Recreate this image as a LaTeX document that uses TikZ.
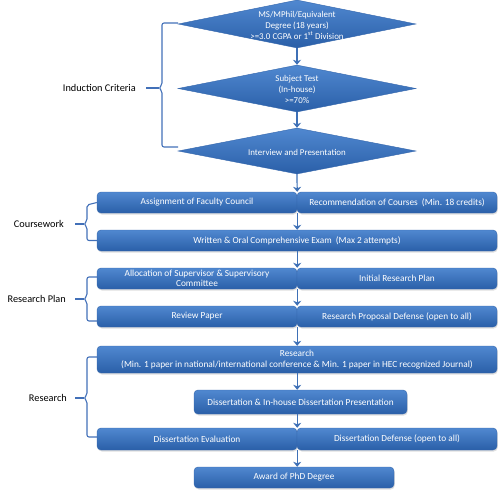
\documentclass[tikz,border=0pt]{standalone}
\usepackage{fontspec}
\setmainfont{Carlito}
\usetikzlibrary{shapes.geometric,arrows.meta,shadows}
\definecolor{boxtop}{RGB}{80,136,208}
\definecolor{boxbot}{RGB}{42,95,168}
\definecolor{boxline}{RGB}{52,102,172}
\definecolor{arrowc}{RGB}{62,112,182}
\definecolor{bracec}{RGB}{66,112,184}
\begin{document}
\begin{tikzpicture}[x=1pt,y=-1pt,
  bar/.style={rectangle, rounded corners=4pt, top color=boxtop, bottom color=boxbot,
    draw=boxline, line width=0.4pt, text=white, font=\fontsize{9.3}{10.5}\selectfont,
    align=center, inner sep=0.5pt,
    drop shadow={opacity=0.25, shadow xshift=0.8pt, shadow yshift=-1.5pt}},
  dia/.style={diamond, top color=boxtop, bottom color=boxbot, draw=boxline,
    line width=0.4pt, inner sep=0pt},
  dtext/.style={text=white, font=\fontsize{8.9}{11}\selectfont, align=center, inner sep=0pt},
  flow/.style={draw=arrowc, line width=1.2pt, -{Stealth[length=5pt,width=8pt,inset=1.5pt]}},
  brace/.style={draw=bracec, line width=1.1pt, rounded corners=2pt},
  lab/.style={font=\fontsize{10.3}{12}\selectfont, anchor=east, inner sep=0pt}]
\useasboundingbox (0,0) rectangle (501,495);

% diamonds
\node[dia, minimum width=238, minimum height=48] (d1) at (297,24) {};
\node[dtext] at (297,25) {MS/MPhil/Equivalent\\Degree (18 years)\\>=3.0 CGPA or 1\textsuperscript{st} Division};
\node[dia, minimum width=238, minimum height=47] (d2) at (297,88.5) {};
\node[dtext] at (297,89) {Subject Test\\(In-house)\\>=70\%};
\node[dia, minimum width=238, minimum height=46] (d3) at (297,151) {};
\node[dtext] at (297,152) {Interview and Presentation};

% bars
\node[bar, minimum width=200, minimum height=21] (assign) at (197,202.5) {Assignment of Faculty Council};
\node[bar, minimum width=200, minimum height=21] (recom) at (397,202.5) {Recommendation of Courses\ \ (Min. 18 credits)};
\node[bar, minimum width=400, minimum height=21] (written) at (297,240.5) {Written \& Oral Comprehensive Exam\ \ (Max 2 attempts)};
\node[bar, minimum width=200, minimum height=21] (alloc) at (197,278.5) {Allocation of Supervisor \& Supervisory\\Committee};
\node[bar, minimum width=200, minimum height=21] (initial) at (397,278.5) {Initial Research Plan};
\node[bar, minimum width=200, minimum height=21] (review) at (197,316.5) {Review Paper};
\node[bar, minimum width=200, minimum height=21] (rpd) at (397,316.5) {Research Proposal Defense (open to all)};
\node[bar, minimum width=400, minimum height=27] (research) at (297,359.5) {Research\\(Min. 1 paper in national/international conference \& Min. 1 paper in HEC recognized Journal)};
\node[bar, minimum width=213, minimum height=24] (diss) at (300.5,402) {Dissertation \& In-house Dissertation Presentation};
\node[bar, minimum width=200, minimum height=22] (eval) at (197,439) {Dissertation Evaluation};
\node[bar, minimum width=200, minimum height=22] (defense) at (397,439) {Dissertation Defense (open to all)};
\node[bar, minimum width=200, minimum height=21] (award) at (294,477.5) {Award of PhD Degree};

% flow arrows
\draw[flow] (d1.south) -- (d2.north);
\draw[flow] (d2.south) -- (d3.north);
\draw[flow] (d3.south) -- (assign.north east);
\draw[flow] (assign.south east) -- (assign.south east |- written.north);
\draw[flow] (assign.south east |- written.south) -- (alloc.north east);
\draw[flow] (alloc.south east) -- (review.north east);
\draw[flow] (review.south east) -- (review.south east |- research.north);
\draw[flow] (review.south east |- research.south) -- (review.south east |- diss.north);
\draw[flow] (review.south east |- diss.south) -- (eval.north east);
\draw[flow] (eval.south east) -- (eval.south east |- award.north);

% braces
\coordinate (ic1) at (178,23);
\coordinate (ic2) at (178,147);
\coordinate (icm) at (146,88);
\draw[brace] (ic1) -- (162,23) -- (162,85) -- (159,88) -- (162,91) -- (162,147) -- (ic2);
\draw[brace] (159,88) -- (icm);
\node[lab] (lind) at (136,88) {Induction Criteria};

\coordinate (cwm) at (75,224);
\draw[brace] (assign.west) -- (87,205) -- (87,221) -- (84,224) -- (87,227) -- (87,240.5) -- (written.west);
\draw[brace] (84,224) -- (cwm);
\node[lab] (lcw) at (64,224) {Coursework};

\coordinate (rpm) at (75,299);
\draw[brace] (97,277) -- (87,277) -- (87,296) -- (84,299) -- (87,302) -- (87,321) -- (97,321);
\draw[brace] (84,299) -- (rpm);
\node[lab] (lrp) at (66,299) {Research Plan};

\coordinate (rm) at (75,398);
\draw[brace] (97,357) -- (87,357) -- (87,395) -- (84,398) -- (87,401) -- (87,437) -- (97,437);
\draw[brace] (84,398) -- (rm);
\node[lab] (lr) at (67,398) {Research};
\end{tikzpicture}
\end{document}
